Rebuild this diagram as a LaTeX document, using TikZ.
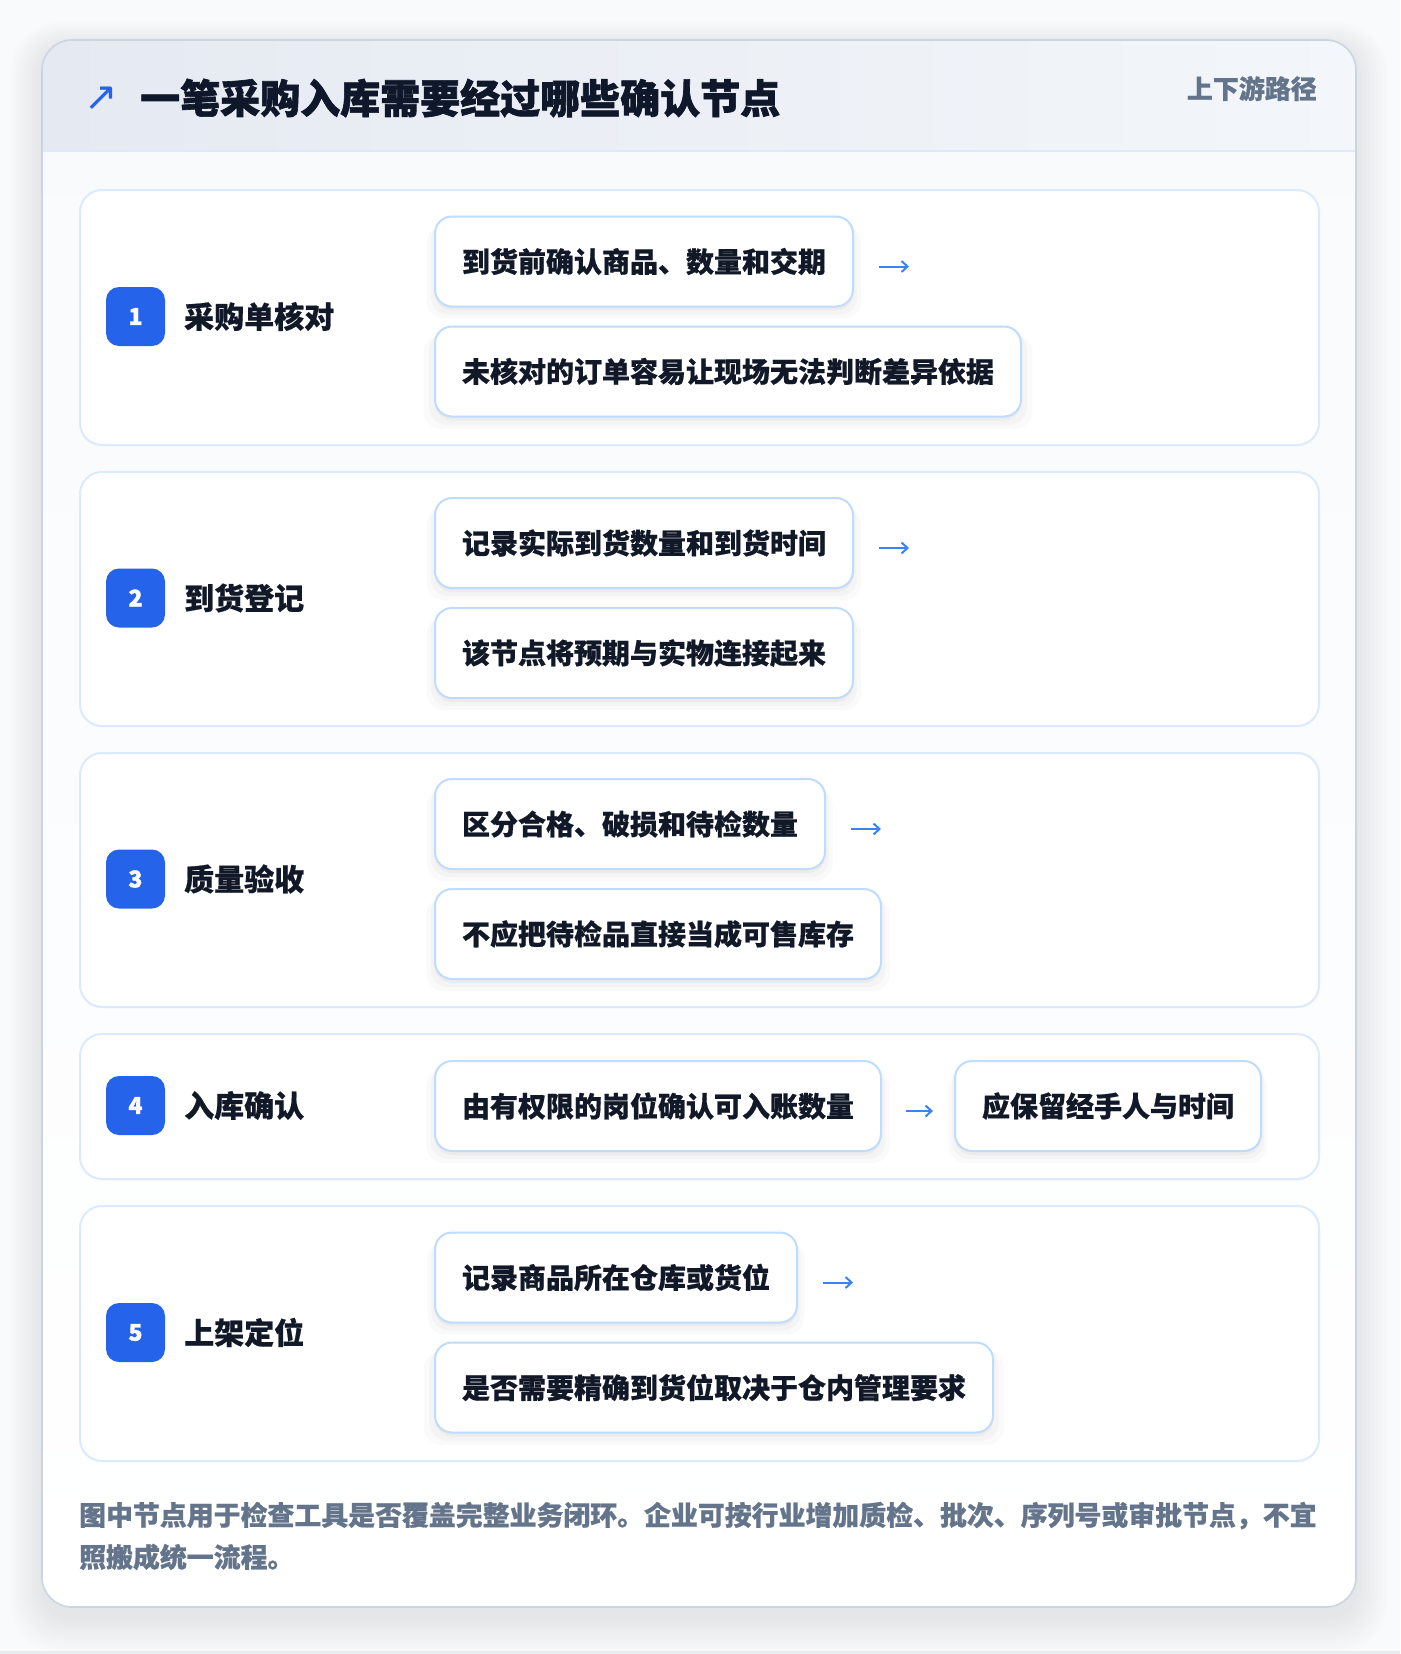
\documentclass[tikz,border=0pt]{standalone}
\usepackage{fontspec}
\setmainfont{Noto Sans CJK SC}[BoldFeatures={FakeBold=0.6}]
\newfontfamily\heavyfont{Noto Sans CJK SC}[BoldFeatures={FakeBold=1.6}]
\newfontfamily\symfont{DejaVu Sans}
\usetikzlibrary{arrows.meta,shadows}
\definecolor{pagebg}{HTML}{F9FAFB}
\definecolor{cardborder}{HTML}{CBD5E1}
\definecolor{headL}{HTML}{E5EAF2}
\definecolor{headR}{HTML}{F3F6FA}
\definecolor{bodyTop}{HTML}{F8FAFC}
\definecolor{divider}{HTML}{DBEAFE}
\definecolor{secborder}{HTML}{DBEAFE}
\definecolor{itemborder}{HTML}{BFDBFE}
\definecolor{badgeblue}{HTML}{2563EB}
\definecolor{arrowblue}{HTML}{3B82F6}
\definecolor{titlecol}{HTML}{0F172A}
\definecolor{textcol}{HTML}{111827}
\definecolor{mutedcol}{HTML}{64748B}
\definecolor{stripcol}{HTML}{E9ECF1}
\tikzset{
  section/.style={draw=secborder, line width=2pt, fill=white, rounded corners=22pt,
    anchor=north west, minimum width=1239pt, inner sep=0pt},
  itembox/.style={draw=itemborder, line width=2pt, fill=white, rounded corners=17pt,
    anchor=west, inner xsep=27pt, inner ysep=0pt, minimum height=90pt,
    font=\fontsize{28}{34}\selectfont\bfseries, text=textcol,
    general shadow={shadow xshift=0pt, shadow yshift=-10pt, shadow scale=1.04, opacity=0.018, fill=black},
    general shadow={shadow xshift=0pt, shadow yshift=-7pt, shadow scale=1.02, opacity=0.025, fill=black},
    general shadow={shadow xshift=0pt, shadow yshift=-4pt, shadow scale=1.0, opacity=0.03, fill=black}},
  badge/.style={fill=badgeblue, rounded corners=13pt, minimum size=59pt, inner sep=0pt,
    text=white, font=\heavyfont\fontsize{23}{23}\selectfont\bfseries},
  steplabel/.style={anchor=west, inner sep=0pt, text=textcol,
    font=\fontsize{30}{36}\selectfont\bfseries},
  conn/.style={draw=arrowblue, line width=2pt, -{Straight Barb[length=6pt,width=11pt]}},
}
\begin{document}
\begin{tikzpicture}[x=1pt, y=-1pt]
\useasboundingbox (0,0) rectangle (1400,1654);
\fill[pagebg] (0,0) rectangle (1400,1654);
\fill[stripcol] (0,1651) rectangle (1400,1654);
% card shadow
\foreach \i in {1,...,20}{
  \fill[black, opacity=0.0045, rounded corners={30pt+\i pt}]
    ({42-1.6*\i},{46-1.2*\i}) rectangle ({1356+1.6*\i},{1617+1.8*\i});
}
% card
\path[shade, top color=bodyTop, bottom color=white, rounded corners=30pt]
  (42,40) rectangle (1356,1607);
\begin{scope}
  \clip[rounded corners=30pt] (42,40) rectangle (1356,1607);
  \shade[left color=headL, right color=headR] (42,40) rectangle (1356,151);
\end{scope}
\draw[divider, line width=1.5pt] (42,151) -- (1356,151);
\draw[cardborder, line width=1.6pt, rounded corners=30pt] (42,40) rectangle (1356,1607);

% header
\node[inner sep=0pt, text=badgeblue, font=\symfont\fontsize{40}{40}\selectfont] (icon) at (101,99) {↗};
\node[anchor=west, inner sep=0pt, text=titlecol, font=\heavyfont\fontsize{40}{48}\selectfont\bfseries] (title) at (140,98) {一笔采购入库需要经过哪些确认节点};
\node[anchor=east, inner sep=0pt, text=mutedcol, font=\fontsize{26}{30}\selectfont\bfseries] (tag) at (1317,88.5) {上下游路径};

% sections
\node[section, minimum height=255pt] (s1) at (79,189) {};
\node[section, minimum height=254pt] (s2) at (79,471) {};
\node[section, minimum height=254pt] (s3) at (79,752) {};
\node[section, minimum height=145pt] (s4) at (79,1033) {};
\node[section, minimum height=255pt] (s5) at (79,1205) {};

% badges and labels
\node[badge] (n1) at (135.5,316.5) {1};
\node[steplabel] (l1) at (184,316.5) {采购单核对};
\node[badge] (n2) at (135.5,598) {2};
\node[steplabel] (l2) at (184,598) {到货登记};
\node[badge] (n3) at (135.5,879) {3};
\node[steplabel] (l3) at (184,879) {质量验收};
\node[badge] (n4) at (135.5,1105.5) {4};
\node[steplabel] (l4) at (184,1105.5) {入库确认};
\node[badge] (n5) at (135.5,1332.5) {5};
\node[steplabel] (l5) at (184,1332.5) {上架定位};

% items
\node[itembox] (b11) at (434,261.5) {到货前确认商品、数量和交期};
\node[itembox] (b12) at (434,371.5) {未核对的订单容易让现场无法判断差异依据};
\node[itembox] (b21) at (434,543) {记录实际到货数量和到货时间};
\node[itembox] (b22) at (434,653) {该节点将预期与实物连接起来};
\node[itembox] (b31) at (434,824) {区分合格、破损和待检数量};
\node[itembox] (b32) at (434,934) {不应把待检品直接当成可售库存};
\node[itembox] (b41) at (434,1106) {由有权限的岗位确认可入账数量};
\node[itembox] (b42) at (954,1106) {应保留经手人与时间};
\node[itembox] (b51) at (434,1277.5) {记录商品所在仓库或货位};
\node[itembox] (b52) at (434,1387.5) {是否需要精确到货位取决于仓内管理要求};

% arrows
\coordinate (a1s) at ([xshift=25pt, yshift=-5pt]b11.east);
\coordinate (a1e) at ([xshift=55pt, yshift=-5pt]b11.east);
\draw[conn] (a1s) -- (a1e);
\coordinate (a2s) at ([xshift=25pt, yshift=-5pt]b21.east);
\coordinate (a2e) at ([xshift=55pt, yshift=-5pt]b21.east);
\draw[conn] (a2s) -- (a2e);
\coordinate (a3s) at ([xshift=25pt, yshift=-5pt]b31.east);
\coordinate (a3e) at ([xshift=55pt, yshift=-5pt]b31.east);
\draw[conn] (a3s) -- (a3e);
\draw[conn, shorten <=24pt, shorten >=21pt] ([yshift=-5pt]b41.east) -- ([yshift=-5pt]b42.west);
\coordinate (a5s) at ([xshift=25pt, yshift=-5pt]b51.east);
\coordinate (a5e) at ([xshift=55pt, yshift=-5pt]b51.east);
\draw[conn] (a5s) -- (a5e);

% footer
\node[anchor=west, align=left, inner sep=0pt, text=mutedcol, font=\fontsize{26.9}{42}\selectfont\bfseries] (foot) at (79,1536) {图中节点用于检查工具是否覆盖完整业务闭环。企业可按行业增加质检、批次、序列号或审批节点，不宜\\照搬成统一流程。};
\end{tikzpicture}
\end{document}
